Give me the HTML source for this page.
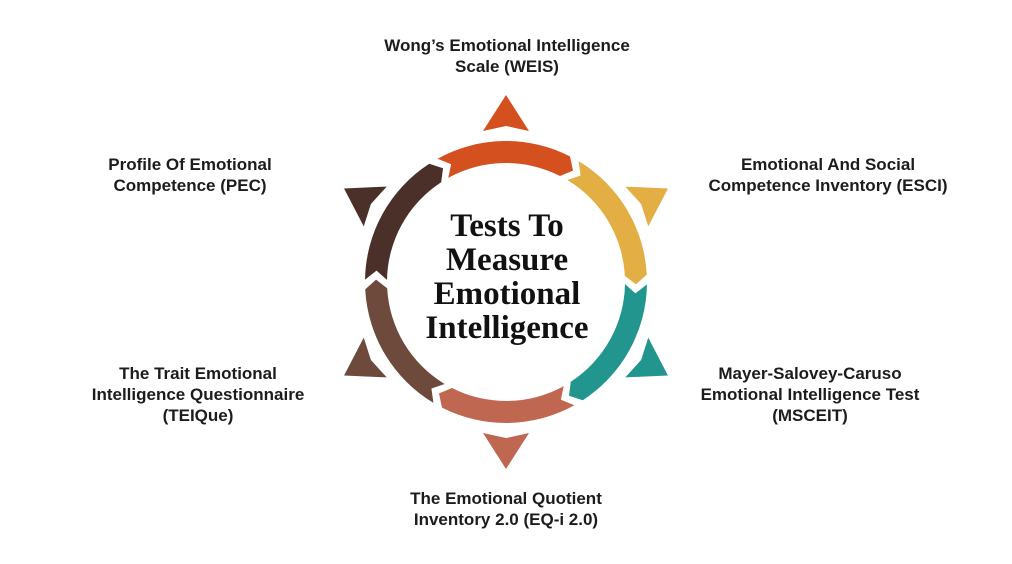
<!DOCTYPE html>
<html><head><meta charset="utf-8"><style>
html,body{margin:0;padding:0;background:#fff;}
body{width:1012px;height:564px;position:relative;overflow:hidden;font-family:"Liberation Sans",sans-serif;}
.l{position:absolute;font-weight:bold;font-size:17px;line-height:21px;color:#1c1c1c;text-align:center;white-space:nowrap;transform:translateX(-50%);}
.c{position:absolute;left:507px;top:209px;transform:translateX(-50%);font-family:"Liberation Serif",serif;font-weight:bold;font-size:33px;line-height:34px;text-align:center;color:#111;white-space:nowrap;}
</style></head><body>
<svg width="1012" height="564" style="position:absolute;left:0;top:0">
<defs>
<path id="seg" d="M -68.4,-123.3 A141 141 0 0 1 64,-125.6 L67,-111.4 L54,-106 A119 119 0 0 0 -57.7,-104.1 L-54.9,-117.8 Z"/>
<path id="tri" d="M0,-187 L23,-151 L0,-156 L-23,-151 Z"/>
</defs>
<g transform="translate(506,282)">
<use href="#seg" fill="#d4501f"/>
<use href="#seg" fill="#e3ae44" transform="rotate(60)"/>
<use href="#seg" fill="#22958f" transform="rotate(120)"/>
<use href="#seg" fill="#bf6750" transform="rotate(180)"/>
<use href="#seg" fill="#6e4a3c" transform="rotate(240)"/>
<use href="#seg" fill="#4a3028" transform="rotate(300)"/>
<use href="#tri" fill="#d4501f"/>
<use href="#tri" fill="#e3ae44" transform="rotate(60)"/>
<use href="#tri" fill="#22958f" transform="rotate(120)"/>
<use href="#tri" fill="#bf6750" transform="rotate(180)"/>
<use href="#tri" fill="#6e4a3c" transform="rotate(240)"/>
<use href="#tri" fill="#4a3028" transform="rotate(300)"/>
</g>
</svg>
<div class="l" style="left:507px;top:35px">Wong’s Emotional Intelligence<br>Scale (WEIS)</div>
<div class="l" style="left:190px;top:154px">Profile Of Emotional<br>Competence (PEC)</div>
<div class="l" style="left:828px;top:154px">Emotional And Social<br>Competence Inventory (ESCI)</div>
<div class="l" style="left:198px;top:363px">The Trait Emotional<br>Intelligence Questionnaire<br>(TEIQue)</div>
<div class="l" style="left:810px;top:363px">Mayer-Salovey-Caruso<br>Emotional Intelligence Test<br>(MSCEIT)</div>
<div class="l" style="left:506px;top:488px">The Emotional Quotient<br>Inventory 2.0 (EQ-i 2.0)</div>
<div class="c">Tests To<br>Measure<br>Emotional<br>Intelligence</div>
</body></html>
